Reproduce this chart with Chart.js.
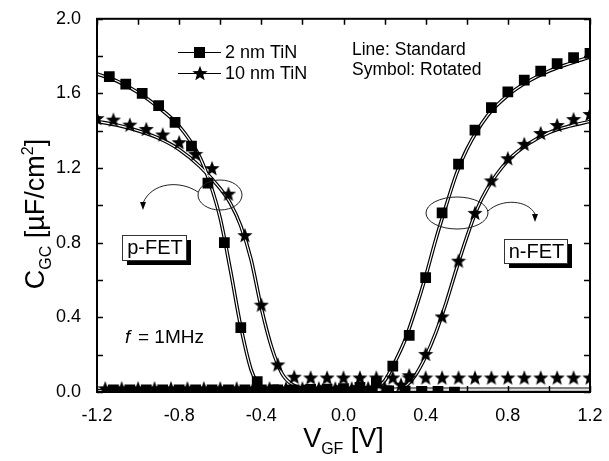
<!DOCTYPE html>
<html>
<head>
<meta charset="utf-8">
<script src="https://cdn.jsdelivr.net/npm/chart.js@4/dist/chart.umd.min.js"></script>
<style>
  html, body { margin: 0; padding: 0; background: #fff; }
  #wrap { width: 609px; height: 461px; }
</style>
</head>
<body>
<div id="wrap"><canvas id="chart"></canvas></div>
<script>
// tick labels
const xTickVals = [-1.2, -0.8, -0.4, 0.0, 0.4, 0.8, 1.2]
const yTickVals = [0.0, 0.4, 0.8, 1.2, 1.6, 2.0]
const xMinorTicks = [-1.0, -0.6, -0.2, 0.2, 0.6, 1.0]
const yMinorTicks = [0.2, 0.6, 1.0, 1.4, 1.8]

// symbols, rotated devices: 2 nm TiN (squares)
const sqPX = [-1.14, -1.06, -0.98, -0.90, -0.82, -0.74, -0.66, -0.58, -0.50, -0.42, -0.34, -0.26, -0.18, -0.10, -0.02, 0.06, 0.14, 0.22, 0.30, 0.38, 0.46, 0.54]
const sqPY = [1.69, 1.65, 1.60, 1.535, 1.445, 1.318, 1.12, 0.80, 0.345, 0.055, 0.012, 0.01, 0.01, 0.008, 0.008, 0.008, 0.006, 0.006, 0.005, 0.004, 0.004, 0.0]
const sqNX = [-1.12, -1.04, -0.96, -0.88, -0.80, -0.72, -0.64, -0.56, -0.48, -0.40, -0.32, -0.24, -0.16, -0.08, 0.00, 0.08, 0.16, 0.24, 0.32, 0.40, 0.48, 0.56, 0.64, 0.72, 0.80, 0.88, 0.96, 1.04, 1.12, 1.20]
const sqNY = [0.012, 0.012, 0.012, 0.012, 0.012, 0.012, 0.012, 0.012, 0.012, 0.012, 0.012, 0.012, 0.014, 0.016, 0.018, 0.025, 0.05, 0.139, 0.304, 0.613, 0.96, 1.221, 1.403, 1.524, 1.609, 1.671, 1.719, 1.76, 1.792, 1.815]

// symbols, rotated devices: 10 nm TiN (stars)
const stPX = [-1.20, -1.12, -1.04, -0.96, -0.88, -0.80, -0.72, -0.64, -0.56, -0.48, -0.40, -0.32, -0.24, -0.16, -0.08, 0.00, 0.08, 0.16, 0.24, 0.32, 0.40, 0.48, 0.56, 0.64, 0.72, 0.80, 0.88, 0.96, 1.04, 1.12, 1.20]
const stPY = [1.468, 1.46, 1.433, 1.41, 1.38, 1.339, 1.276, 1.20, 1.063, 0.841, 0.468, 0.148, 0.082, 0.078, 0.078, 0.078, 0.078, 0.078, 0.078, 0.078, 0.078, 0.078, 0.078, 0.078, 0.078, 0.078, 0.078, 0.078, 0.078, 0.078, 0.078]
const stNX = [-1.16, -1.08, -1.00, -0.92, -0.84, -0.76, -0.68, -0.60, -0.52, -0.44, -0.36, -0.28, -0.20, -0.12, -0.04, 0.04, 0.12, 0.20, 0.28, 0.32, 0.40, 0.48, 0.56, 0.64, 0.72, 0.80, 0.88, 0.96, 1.04, 1.12, 1.20]
const stNY = [0.02, 0.02, 0.02, 0.02, 0.02, 0.02, 0.02, 0.02, 0.02, 0.02, 0.02, 0.02, 0.02, 0.02, 0.02, 0.02, 0.022, 0.025, 0.04, 0.09, 0.204, 0.405, 0.704, 0.96, 1.134, 1.253, 1.33, 1.388, 1.431, 1.463, 1.49]

// lines, standard devices
const lnPX = [-1.2, -1.1, -1.0, -0.9, -0.8, -0.7, -0.65, -0.6, -0.55, -0.5, -0.45, -0.42, -0.38, -0.3, 0.0, 0.6, 1.2]
const ln2PY = [1.705, 1.665, 1.605, 1.525, 1.425, 1.26, 1.12, 0.93, 0.65, 0.35, 0.12, 0.05, 0.02, 0.012, 0.01, 0.01, 0.01]
const ln10PX = [-1.2, -1.1, -1.0, -0.9, -0.8, -0.7, -0.6, -0.55, -0.5, -0.45, -0.4, -0.35, -0.3, -0.25, -0.2, 0.0, 0.6, 1.2]
const ln10PY = [1.45, 1.43, 1.40, 1.36, 1.30, 1.21, 1.09, 1.01, 0.89, 0.71, 0.45, 0.24, 0.10, 0.04, 0.02, 0.015, 0.015, 0.015]
const lnNX = [-1.2, 0.0, 0.1, 0.15, 0.2, 0.25, 0.3, 0.35, 0.4, 0.45, 0.5, 0.55, 0.6, 0.7, 0.8, 0.9, 1.0, 1.1, 1.2]
const ln2NY = [0.005, 0.005, 0.008, 0.02, 0.06, 0.16, 0.28, 0.44, 0.62, 0.82, 1.0, 1.17, 1.30, 1.48, 1.59, 1.665, 1.72, 1.76, 1.795]
const ln10NX = [-1.2, 0.2, 0.25, 0.3, 0.35, 0.4, 0.45, 0.5, 0.55, 0.6, 0.65, 0.7, 0.8, 0.9, 1.0, 1.1, 1.2]
const ln10NY = [0.005, 0.005, 0.01, 0.03, 0.09, 0.19, 0.32, 0.48, 0.66, 0.83, 0.98, 1.09, 1.24, 1.33, 1.39, 1.425, 1.45]
// grey trace along the floor on the n-side
const floorX = [0.42, 0.6, 0.8, 1.0, 1.2]
const floorY = [0.01, 0.012, 0.01, 0.012, 0.01]

const FONT = '"Liberation Sans", Arial, sans-serif'

const pts = (xs, ys) => xs.map((x, i) => ({ x, y: ys[i] }))

const makeStar = (size) => {
    const c = document.createElement('canvas')
    c.width = size
    c.height = size
    const g = c.getContext('2d')
    const R = size / 2, r = R * 0.42
    g.beginPath()
    for (let i = 0; i < 10; i++) {
        const rad = i % 2 ? r : R
        const a = -Math.PI / 2 + i * Math.PI / 5
        g.lineTo(R + rad * Math.cos(a), R + 0.8 + rad * Math.sin(a))
    }
    g.closePath()
    g.fillStyle = '#000'
    g.fill()
    return c
}
const starImg = makeStar(16)

// outline look: wide black stroke under a thin white one (lower order = drawn on top)
const hollowLine = (xs, ys) => ([
    { type: 'line', data: pts(xs, ys), borderColor: '#000', borderWidth: 3.6, pointRadius: 0, cubicInterpolationMode: 'monotone', clip: 0, order: 3 },
    { type: 'line', data: pts(xs, ys), borderColor: '#fff', borderWidth: 1.2, pointRadius: 0, cubicInterpolationMode: 'monotone', clip: 0, order: 2 },
])

const symbols = (xs, ys, style, r) => ({
    type: 'line', data: pts(xs, ys), showLine: false, pointStyle: style, pointRadius: r,
    backgroundColor: '#000', borderColor: '#000', borderWidth: 0, clip: 0, order: 1
})

const drawBox = (ctx, x, y, w, h, text) => {
    ctx.fillStyle = '#000'
    ctx.fillRect(x + 5, y + 5, w, h)
    ctx.fillStyle = '#fff'
    ctx.fillRect(x, y, w, h)
    ctx.strokeStyle = '#333'
    ctx.lineWidth = 1
    ctx.strokeRect(x + 0.5, y + 0.5, w, h)
    ctx.fillStyle = '#000'
    ctx.font = `20px ${FONT}`
    ctx.textAlign = 'center'
    ctx.textBaseline = 'middle'
    ctx.fillText(text, x + w / 2 + 1, y + h / 2 + 1)
}

const arrowHead = (ctx, x, y) => {
    ctx.beginPath()
    ctx.moveTo(x - 3, y - 8)
    ctx.lineTo(x + 3, y - 8)
    ctx.lineTo(x, y)
    ctx.closePath()
    ctx.fill()
}

const decorations = {
    id: 'decorations',
    afterDraw(chart) {
        const { ctx, chartArea: a, scales: { x, y } } = chart
        ctx.save()
        // frame
        ctx.strokeStyle = '#000'
        ctx.lineWidth = 2
        ctx.strokeRect(a.left, a.top, a.right - a.left, a.bottom - a.top)
        // inward ticks on all sides
        ctx.lineWidth = 1.5
        ctx.beginPath()
        xTickVals.concat(xMinorTicks).forEach(v => {
            const px = Math.round(x.getPixelForValue(v)) + 0.5
            ctx.moveTo(px, a.bottom); ctx.lineTo(px, a.bottom - 6)
            ctx.moveTo(px, a.top); ctx.lineTo(px, a.top + 6)
        })
        yTickVals.concat(yMinorTicks).forEach(v => {
            const py = Math.round(y.getPixelForValue(v)) + 0.5
            ctx.moveTo(a.left, py); ctx.lineTo(a.left + 6, py)
            ctx.moveTo(a.right, py); ctx.lineTo(a.right - 6, py)
        })
        ctx.stroke()

        // legend
        ctx.lineWidth = 1.2
        ctx.beginPath()
        ctx.moveTo(178, 52.5); ctx.lineTo(221, 52.5)
        ctx.moveTo(178, 73.5); ctx.lineTo(221, 73.5)
        ctx.stroke()
        ctx.fillStyle = '#000'
        ctx.fillRect(194, 47, 11, 11)
        ctx.drawImage(starImg, 192, 65)
        ctx.font = `18px ${FONT}`
        ctx.textAlign = 'left'
        ctx.textBaseline = 'middle'
        ctx.fillText('2 nm TiN', 225, 53)
        ctx.fillText('10 nm TiN', 225, 74)
        ctx.font = `17.5px ${FONT}`
        ctx.fillText('Line: Standard', 352, 50)
        ctx.fillText('Symbol: Rotated', 352, 70)

        // f = 1MHz
        ctx.font = `italic 19px ${FONT}`
        ctx.fillText('f', 125, 338)
        ctx.font = `19px ${FONT}`
        ctx.fillText('= 1MHz', 138, 338)

        // ellipses and arrows
        ctx.lineWidth = 1
        ctx.strokeStyle = '#222'
        ctx.beginPath()
        ctx.ellipse(220, 195, 22, 15, 0, 0, Math.PI * 2)
        ctx.stroke()
        ctx.beginPath()
        ctx.ellipse(457, 213, 31, 16, 0, 0, Math.PI * 2)
        ctx.stroke()
        ctx.beginPath()
        ctx.moveTo(198, 192)
        ctx.bezierCurveTo(180, 180, 152, 182, 143, 203)
        ctx.stroke()
        arrowHead(ctx, 143, 210)
        ctx.beginPath()
        ctx.moveTo(488, 211)
        ctx.bezierCurveTo(502, 198, 528, 200, 535, 214)
        ctx.stroke()
        arrowHead(ctx, 535, 222)

        drawBox(ctx, 122, 235, 64, 25, 'p-FET')
        drawBox(ctx, 504, 239, 63, 24, 'n-FET')

        // axis titles with sub/superscripts
        ctx.fillStyle = '#000'
        ctx.textAlign = 'left'
        ctx.textBaseline = 'alphabetic'
        const xt = [['V', 27, 0], ['GF', 16, 7], [' [V]', 27, 0]]
        let w = 0
        xt.forEach(([t, s]) => { ctx.font = `${s}px ${FONT}`; w += ctx.measureText(t).width })
        let cx = (a.left + a.right) / 2 - w / 2
        xt.forEach(([t, s, dy]) => {
            ctx.font = `${s}px ${FONT}`
            ctx.fillText(t, cx, 447 + dy)
            cx += ctx.measureText(t).width
        })

        ctx.translate(44, 214)
        ctx.rotate(-Math.PI / 2)
        const yt = [['C', 27, 0], ['GC', 16, 7], [' [\u00b5F/cm', 27, 0], ['2', 16, -11], [']', 27, 0]]
        w = 0
        yt.forEach(([t, s]) => { ctx.font = `${s}px ${FONT}`; w += ctx.measureText(t).width })
        cx = -w / 2
        yt.forEach(([t, s, dy]) => {
            ctx.font = `${s}px ${FONT}`
            ctx.fillText(t, cx, dy)
            cx += ctx.measureText(t).width
        })
        ctx.restore()
    }
}

const fmt = v => Math.abs(v) < 1e-9 ? '0.0' : v.toFixed(1)

new Chart(document.getElementById('chart'), {
    type: 'line',
    data: {
        datasets: [
            symbols(sqPX, sqPY, 'rect', 7.6),
            symbols(sqNX, sqNY, 'rect', 7.6),
            symbols(stPX, stPY, starImg, 8),
            symbols(stNX, stNY, starImg, 8),
            ...hollowLine(lnPX, ln2PY),
            ...hollowLine(ln10PX, ln10PY),
            ...hollowLine(lnNX, ln2NY),
            ...hollowLine(ln10NX, ln10NY),
            { type: 'line', data: pts(floorX, floorY), borderColor: '#999', borderWidth: 2, pointRadius: 0, clip: 0, order: 4 },
        ]
    },
    options: {
        responsive: true,
        maintainAspectRatio: false,
        animation: false,
        layout: { padding: { top: 16, right: 19, left: 0, bottom: 0 } },
        plugins: { legend: { display: false }, tooltip: { enabled: false } },
        scales: {
            x: {
                type: 'linear', min: -1.2, max: 1.2,
                grid: { display: false }, border: { display: false },
                afterBuildTicks: s => { s.ticks = xTickVals.map(v => ({ value: v })) },
                afterFit: s => { s.height = 69 },
                ticks: { color: '#000', font: { family: FONT, size: 18 }, padding: 5, maxRotation: 0, callback: fmt }
            },
            y: {
                type: 'linear', min: 0, max: 2.0,
                grid: { display: false }, border: { display: false },
                afterBuildTicks: s => { s.ticks = yTickVals.map(v => ({ value: v })) },
                afterFit: s => { s.width = 97 },
                ticks: { color: '#000', font: { family: FONT, size: 18 }, padding: 8, callback: fmt }
            }
        }
    },
    plugins: [decorations]
})
</script>
</body>
</html>
